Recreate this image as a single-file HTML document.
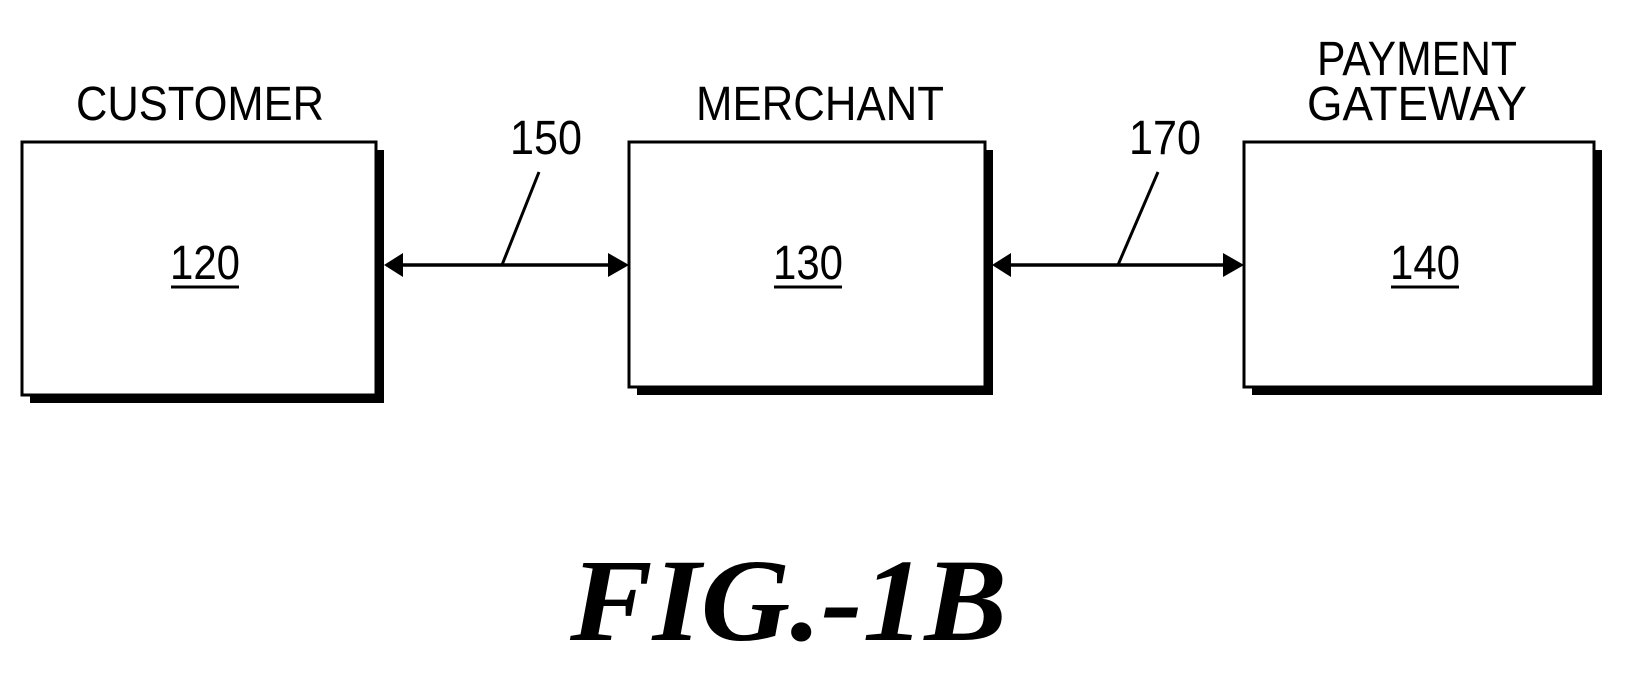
<!DOCTYPE html>
<html><head><meta charset="utf-8"><style>html,body{margin:0;padding:0;background:#fff}svg{display:block}</style></head>
<body>
<svg width="1631" height="686" viewBox="0 0 1631 686" xmlns="http://www.w3.org/2000/svg">
<g fill="#000">
<rect x="30" y="150" width="354" height="253"/>
<rect x="637" y="150" width="356" height="245"/>
<rect x="1252" y="150" width="350" height="245"/>
</g>
<g fill="#fff" stroke="#000" stroke-width="3">
<rect x="22" y="142" width="354" height="253"/>
<rect x="629" y="142" width="356" height="245"/>
<rect x="1244" y="142" width="350" height="245"/>
</g>
<g stroke="#000" stroke-width="3.5">
<line x1="392" y1="265" x2="612" y2="265"/>
<line x1="1000" y1="265" x2="1227" y2="265"/>
<line x1="539" y1="172" x2="502" y2="265" stroke-width="3"/>
<line x1="1158" y1="172" x2="1118" y2="265" stroke-width="3"/>
</g>
<g fill="#000">
<polygon points="384,265 403,253 403,277"/>
<polygon points="629,265 608,253 608,277"/>
<polygon points="992,265 1011,253 1011,277"/>
<polygon points="1244,265 1223,253 1223,277"/>
</g>
<g font-family="Liberation Sans, sans-serif" font-size="48" fill="#000" text-anchor="middle">
<text x="200" y="120" textLength="248" lengthAdjust="spacingAndGlyphs">CUSTOMER</text>
<text x="820" y="120" textLength="248" lengthAdjust="spacingAndGlyphs">MERCHANT</text>
<text x="1417" y="75" textLength="200" lengthAdjust="spacingAndGlyphs">PAYMENT</text>
<text x="1417" y="120" textLength="220" lengthAdjust="spacingAndGlyphs">GATEWAY</text>
<text x="546" y="154" textLength="72" lengthAdjust="spacingAndGlyphs">150</text>
<text x="1165" y="154" textLength="72" lengthAdjust="spacingAndGlyphs">170</text>
<text x="205" y="279" textLength="70" lengthAdjust="spacingAndGlyphs">120</text>
<text x="808" y="279" textLength="70" lengthAdjust="spacingAndGlyphs">130</text>
<text x="1425" y="279" textLength="70" lengthAdjust="spacingAndGlyphs">140</text>
</g>
<g stroke="#000" stroke-width="3">
<line x1="171" y1="287" x2="239" y2="287"/>
<line x1="774" y1="287" x2="842" y2="287"/>
<line x1="1391" y1="287" x2="1459" y2="287"/>
</g>
<text x="570" y="640" font-family="Liberation Serif, serif" font-weight="bold" font-style="italic" font-size="118" textLength="437" lengthAdjust="spacingAndGlyphs">FIG.-1B</text>
</svg>
</body></html>
